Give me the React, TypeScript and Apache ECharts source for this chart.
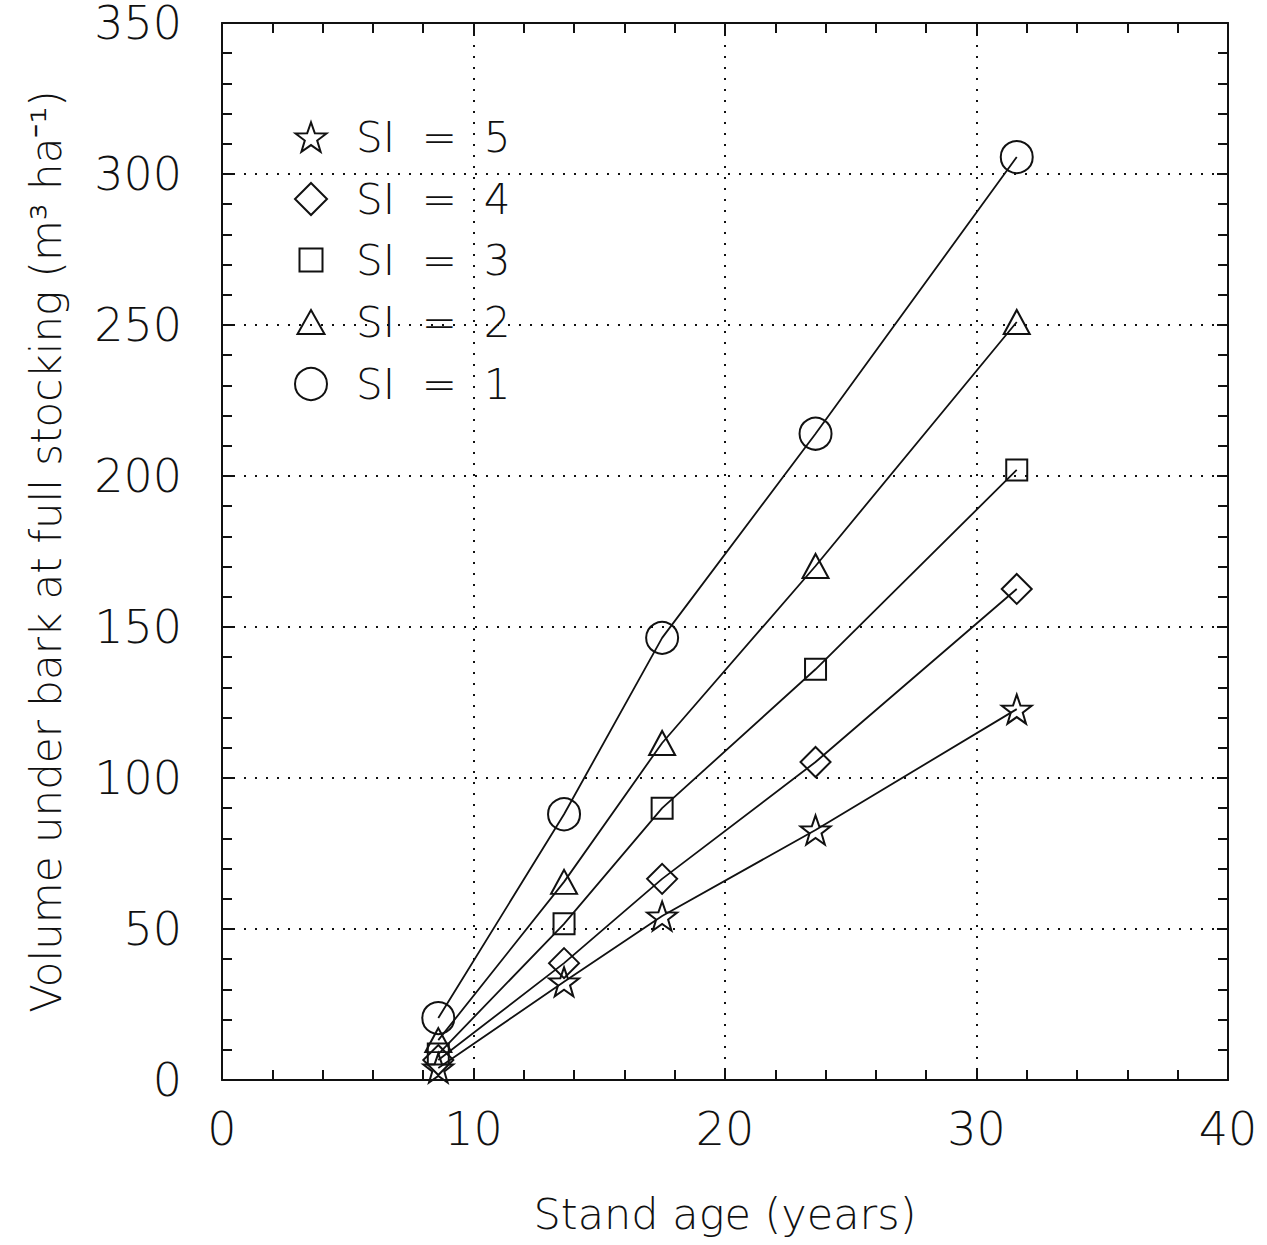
import React, { useEffect, useRef } from "react";
import * as echarts from "echarts";

// ---- data ----
const standAge = [8.6, 13.6, 17.5, 23.6, 31.6];
const si1 = [20.5, 88, 146.4, 214, 305.6];
const si2 = [13.2, 65.6, 111.6, 170.2, 251];
const si3 = [8.6, 51.7, 90, 136, 202];
const si4 = [6.6, 38.7, 66.6, 105.3, 162.6];
const si5 = [4, 32.5, 54.3, 82.8, 122.8];
const seriesNames = ["SI = 5", "SI = 4", "SI = 3", "SI = 2", "SI = 1"];
const xRange = [0, 40];
const xStep = 10;
const yRange = [0, 350];
const yStep = 50;
const xTitle = "Stand age (years)";
const yTitle = "Volume under bark at full stocking (m\u00B3 ha\u207B\u00B9)";

const STAR =
  "path://M50,0 L61.76,33.82 L97.55,34.55 L69.02,56.18 L79.39,90.45 L50,70 L20.61,90.45 L30.98,56.18 L2.45,34.55 L38.24,33.82 Z";

const FONT = '"DejaVu Sans", sans-serif';
const INK = "#111";

export default function App() {
  const ref = useRef<HTMLDivElement>(null);

  useEffect(() => {
    if (!ref.current) return;
    const chart = echarts.init(ref.current, undefined, { renderer: "svg" });

    const valuesBySeries = [si5, si4, si3, si2, si1];
    const symbols = [STAR, "diamond", "rect", "triangle", "circle"];
    const dataSizes: any[] = [[30, 29], [30, 30], 21, [26, 24], 32];
    const legendSizes = [
      [31, 30],
      [32, 32],
      [23, 23],
      [27, 24],
      [32, 32],
    ];
    const rowCenters = [137, 199, 260, 322, 384];
    const iconCenterX = 310;
    const textStartX = 355;

    const series = seriesNames.map((name, i) => ({
      name,
      type: "line",
      data: standAge.map((a, k) => [a, valuesBySeries[i][k]]),
      symbol: symbols[i],
      symbolSize: dataSizes[i],
      showSymbol: true,
      smooth: false,
      lineStyle: { color: INK, width: 1.8 },
      itemStyle: { color: "rgba(0,0,0,0)", borderColor: INK, borderWidth: 2 },
      emphasis: { disabled: true },
      z: 3,
    }));

    const legends = seriesNames.map((name, i) => {
      const [w, h] = legendSizes[i];
      return {
        data: [{ name, icon: symbols[i] }],
        left: iconCenterX - w / 2,
        top: rowCenters[i] - 22,
        padding: 0,
        itemWidth: w,
        itemHeight: h,
        selectedMode: false,
        itemStyle: { color: "rgba(0,0,0,0)", borderColor: INK, borderWidth: 2 },
        formatter: (n: string) => n.replace(/ = /, "  =  "),
        textStyle: {
          fontFamily: FONT,
          fontWeight: 200,
          fontSize: 42,
          lineHeight: 44,
          color: INK,
          padding: [0, 0, 0, textStartX - (iconCenterX + w / 2 + 5)],
        },
      };
    });

    const dotted = { color: INK, width: 2, type: [2, 9] };
    const axisLine = { show: true, onZero: false, lineStyle: { color: INK, width: 2 } };
    const axisTick = { show: true, inside: true, length: 11, lineStyle: { color: INK, width: 2 } };
    const minorTick = { show: true, splitNumber: 5, length: 10, lineStyle: { color: INK, width: 2 } };

    const option: any = {
      animation: false,
      backgroundColor: "#fff",
      grid: { left: 222, right: 39, top: 23, bottom: 165, containLabel: false },
      legend: legends,
      xAxis: [
        {
          type: "value",
          position: "bottom",
          min: xRange[0],
          max: xRange[1],
          interval: xStep,
          name: xTitle,
          nameLocation: "middle",
          nameGap: 112,
          nameTextStyle: { fontFamily: FONT, fontWeight: 200, fontSize: 43, color: INK },
          axisLine,
          axisTick,
          minorTick,
          axisLabel: {
            show: true,
            margin: 26,
            fontFamily: FONT,
            fontWeight: 200,
            fontSize: 46,
            color: INK,
          },
          splitLine: { show: true, lineStyle: dotted },
        },
        {
          type: "value",
          position: "top",
          min: xRange[0],
          max: xRange[1],
          interval: xStep,
          axisLine,
          axisTick,
          minorTick,
          axisLabel: { show: false },
          splitLine: { show: false },
        },
      ],
      yAxis: [
        {
          type: "value",
          position: "left",
          min: yRange[0],
          max: yRange[1],
          interval: yStep,
          name: yTitle,
          nameLocation: "middle",
          nameGap: 155,
          nameTextStyle: { fontFamily: FONT, fontWeight: 200, fontSize: 42, color: INK },
          axisLine,
          axisTick,
          minorTick,
          axisLabel: {
            show: true,
            margin: 40,
            fontFamily: FONT,
            fontWeight: 200,
            fontSize: 46,
            lineHeight: 38,
            color: INK,
          },
          splitLine: { show: true, lineStyle: dotted },
        },
        {
          type: "value",
          position: "right",
          min: yRange[0],
          max: yRange[1],
          interval: yStep,
          axisLine,
          axisTick,
          minorTick,
          axisLabel: { show: false },
          splitLine: { show: false },
        },
      ],
      series,
    };

    chart.setOption(option);
    return () => chart.dispose();
  }, []);

  return (
    <div
      ref={ref}
      style={{ position: "fixed", left: 0, top: 0, width: 1267, height: 1245, background: "#fff" }}
    />
  );
}
